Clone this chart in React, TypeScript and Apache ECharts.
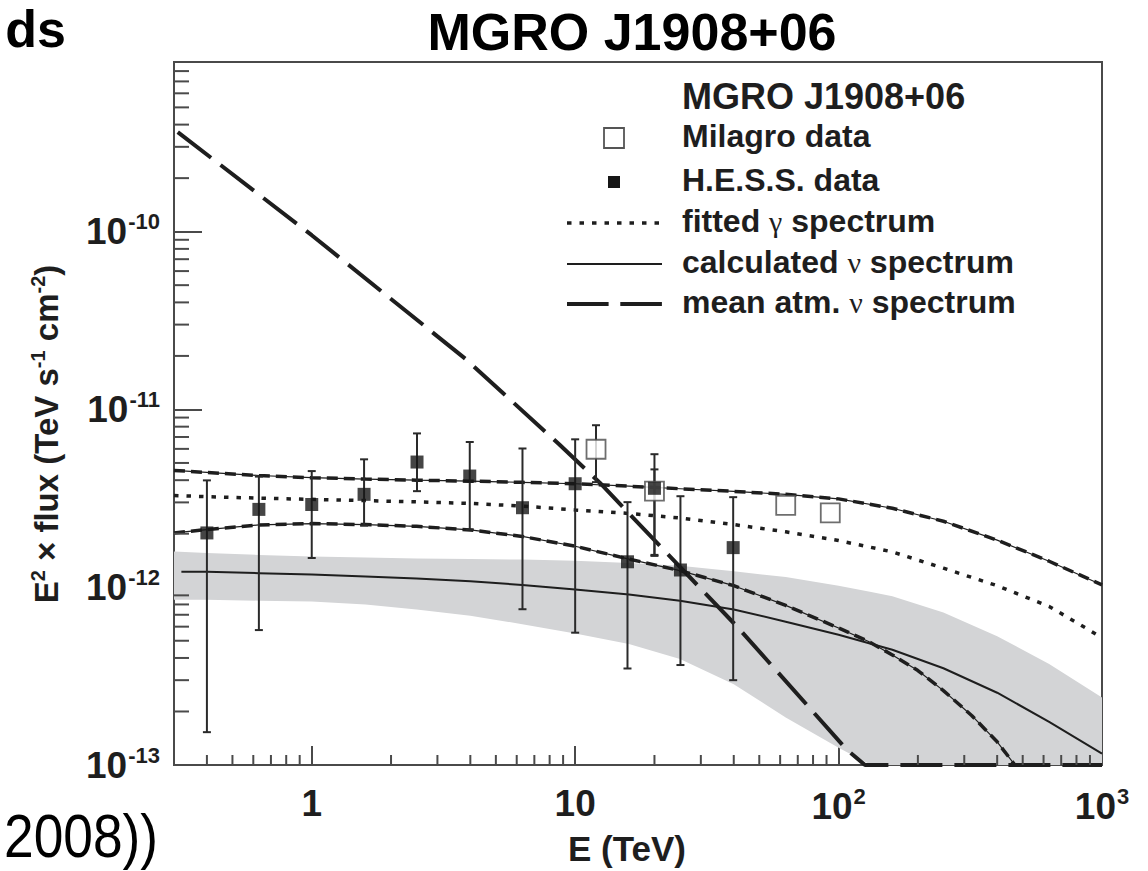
import React, { useEffect, useRef } from 'react';
import * as echarts from 'echarts';

const FONT = '"Liberation Sans", Arial, Helvetica, sans-serif';
const SERIF = '"Liberation Serif", "Times New Roman", serif';
const INK = '#1e1e1e';
const AXIS = '#4a4a4a';

const X_MIN = 0.3;
const X_MAX = 1000;
const Y_MIN = 1e-13;
const Y_MAX = 9e-10;

// H.E.S.S. data
const hessE = [0.4, 0.63, 1.0, 1.58, 2.51, 3.98, 6.31, 10.0, 15.8, 20.0, 25.1, 39.8];
const hessF = [2.02e-12, 2.74e-12, 2.92e-12, 3.33e-12, 5.06e-12, 4.22e-12, 2.8e-12, 3.82e-12, 1.39e-12, 3.6e-12, 1.25e-12, 1.67e-12];
const hessHi = [3.99e-12, 4.19e-12, 4.5e-12, 5.24e-12, 7.33e-12, 6.56e-12, 6.03e-12, 6.79e-12, 3.01e-12, 5.6e-12, 3.25e-12, 3.21e-12];
const hessLo = [1.53e-13, 5.74e-13, 1.46e-12, 2.22e-12, 3.47e-12, 2.11e-12, 7.52e-13, 5.55e-13, 3.49e-13, 1.52e-12, 3.65e-13, 3.0e-13];

// Milagro data
const milE = [12.0, 20.0, 63.0, 93.0];
const milF = [5.97e-12, 3.47e-12, 2.89e-12, 2.62e-12];
const milErrE = [12.0, 20.0];
const milErrHi = [8.15e-12, 4.6e-12];
const milErrLo = [3.9e-12, 1.5e-12];

// curves
const curveE = [0.3, 0.4, 0.63, 1, 1.6, 2.5, 4, 6.3, 10, 16, 25, 40, 63, 100, 160, 250, 400, 630, 1000];
const fitUpper = [4.54e-12, 4.42e-12, 4.25e-12, 4.13e-12, 4.06e-12, 4.0e-12, 3.95e-12, 3.89e-12, 3.82e-12, 3.7e-12, 3.58e-12, 3.46e-12, 3.33e-12, 3.14e-12, 2.78e-12, 2.35e-12, 1.84e-12, 1.4e-12, 1.03e-12];
const fitMid = [3.28e-12, 3.23e-12, 3.17e-12, 3.12e-12, 3.07e-12, 3.02e-12, 2.96e-12, 2.86e-12, 2.72e-12, 2.6e-12, 2.45e-12, 2.25e-12, 2.05e-12, 1.83e-12, 1.58e-12, 1.28e-12, 1.02e-12, 7.8e-13, 5.2e-13];
const lowerE = [0.3, 0.4, 0.63, 1, 1.6, 2.5, 4, 6.3, 10, 16, 25, 40, 63, 100, 130, 160, 200, 250, 320, 400, 467];
const fitLower = [2.02e-12, 2.11e-12, 2.24e-12, 2.28e-12, 2.25e-12, 2.2e-12, 2.1e-12, 1.93e-12, 1.7e-12, 1.44e-12, 1.24e-12, 1.02e-12, 7.9e-13, 5.9e-13, 4.95e-13, 4.16e-13, 3.4e-13, 2.62e-13, 1.9e-13, 1.35e-13, 1.0e-13];
const nuE = [0.32, 0.4, 0.63, 1, 1.6, 2.5, 4, 6.3, 10, 16, 25, 40, 63, 100, 160, 250, 400, 630, 1000];
const nuCalc = [1.22e-12, 1.22e-12, 1.2e-12, 1.18e-12, 1.15e-12, 1.12e-12, 1.08e-12, 1.03e-12, 9.7e-13, 9.1e-13, 8.4e-13, 7.5e-13, 6.4e-13, 5.4e-13, 4.45e-13, 3.5e-13, 2.55e-13, 1.75e-13, 1.16e-13];
const bandE = [0.3, 0.4, 0.63, 1, 1.6, 2.5, 4, 6.3, 10, 16, 25, 40, 63, 100, 133, 160, 250, 400, 630, 1000];
const bandHi = [1.59e-12, 1.56e-12, 1.52e-12, 1.49e-12, 1.47e-12, 1.45e-12, 1.44e-12, 1.43e-12, 1.41e-12, 1.37e-12, 1.32e-12, 1.23e-12, 1.14e-12, 1.02e-12, 9.4e-13, 8.9e-13, 7.2e-13, 5.3e-13, 3.7e-13, 2.4e-13];
const bandLo = [8.5e-13, 8.5e-13, 8.4e-13, 8.3e-13, 8.0e-13, 7.5e-13, 6.9e-13, 6.2e-13, 5.5e-13, 4.8e-13, 3.95e-13, 2.85e-13, 1.85e-13, 1.25e-13, 1.0e-13, 1.0e-13, 1.0e-13, 1.0e-13, 1.0e-13, 1.0e-13];
const atmE = [0.31, 1.0, 3.84, 8.69, 12.4, 25.0, 41.2, 108, 126, 140, 1000];
const atmF = [3.63e-10, 9.55e-11, 1.92e-11, 6.37e-12, 3.87e-12, 1.3e-12, 6.0e-13, 1.21e-13, 1.0e-13, 1.0e-13, 1.0e-13];

// axis minor ticks
const xMinor: number[] = [];
for (let d = -1; d <= 2; d++) for (let m = 2; m <= 9; m++) {
  const v = m * Math.pow(10, d);
  if (v > X_MIN && v < X_MAX) xMinor.push(v);
}
const yMinor: number[] = [];
for (let d = -13; d <= -10; d++) for (let m = 2; m <= 9; m++) {
  const v = m * Math.pow(10, d);
  if (v > Y_MIN && v < Y_MAX * 1.001) yMinor.push(v);
}

const pairs = (xs: number[], ys: number[]) => xs.map((x, i) => [x, ys[i]]);

function isPow10(v: number) {
  const l = Math.log10(v);
  return Math.abs(l - Math.round(l)) < 1e-6;
}

export default function App() {
  const ref = useRef<HTMLDivElement>(null);
  useEffect(() => {
    if (!ref.current) return;
    const chart = echarts.init(ref.current, null, { renderer: 'svg' });

    const errRender = (params: any, api: any) => {
      const x = api.value(0);
      const lo = api.value(1);
      const hi = api.value(2);
      const a = api.coord([x, hi]);
      const b = api.coord([x, lo]);
      const w = 4;
      const st = { stroke: '#2a2a2a', lineWidth: 2 };
      return {
        type: 'group',
        children: [
          { type: 'line', shape: { x1: a[0], y1: a[1], x2: b[0], y2: b[1] }, style: st },
          { type: 'line', shape: { x1: a[0] - w, y1: a[1], x2: a[0] + w, y2: a[1] }, style: st },
          { type: 'line', shape: { x1: b[0] - w, y1: b[1], x2: b[0] + w, y2: b[1] }, style: st },
        ],
      };
    };

    const supRich = {
      s: { fontSize: 22, fontWeight: 'bold', fontFamily: FONT, color: INK, padding: [0, 0, 20, 1] },
    };

    const curve = (name: string, xs: number[], ys: number[], lineStyle: any, extra: any = {}) => ({
      type: 'line', name, data: pairs(xs, ys), symbol: 'none', z: 3, lineStyle, ...extra,
    });

    const option: any = {
      animation: false,
      backgroundColor: '#ffffff',
      grid: { left: 174, right: 46, top: 62, bottom: 106, show: true, borderColor: AXIS, borderWidth: 2 },
      xAxis: {
        type: 'log', logBase: 10, min: X_MIN, max: X_MAX,
        axisLine: { lineStyle: { color: AXIS, width: 2 } },
        axisTick: { inside: true, length: 19, lineStyle: { color: AXIS, width: 2 } },
        splitLine: { show: false },
        axisLabel: {
          margin: 20, color: INK, fontSize: 37, fontWeight: 'bold', fontFamily: FONT,
          formatter: (v: number) => {
            if (!isPow10(v)) return '';
            const p = Math.round(Math.log10(v));
            if (p === 0) return '1';
            if (p === 1) return '10';
            return '10{s|' + p + '}';
          },
          rich: supRich,
        },
      },
      yAxis: {
        type: 'log', logBase: 10, min: Y_MIN, max: Y_MAX,
        axisLine: { lineStyle: { color: AXIS, width: 2 } },
        axisTick: { inside: true, length: 28, lineStyle: { color: AXIS, width: 2 } },
        splitLine: { show: false },
        axisLabel: {
          margin: 14, color: INK, fontSize: 37, fontWeight: 'bold', fontFamily: FONT,
          formatter: (v: number) => {
            if (!isPow10(v)) return '';
            const p = Math.round(Math.log10(v));
            return '10{s|' + p + '}';
          },
          rich: supRich,
        },
      },
      series: [
        {
          type: 'custom', name: 'band', clip: true, z: 1,
          data: [[bandE[0], bandHi[0]]],
          renderItem: (params: any, api: any) => {
            const pts: number[][] = [];
            bandE.forEach((e, i) => pts.push(api.coord([e, bandHi[i]])));
            for (let i = bandE.length - 1; i >= 0; i--) pts.push(api.coord([bandE[i], bandLo[i]]));
            return { type: 'polygon', shape: { points: pts }, style: { fill: '#d3d4d6', stroke: 'none' } };
          },
        },
        curve('calculated ν spectrum', nuE, nuCalc, { color: INK, width: 2 }),
        curve('upper thin', curveE, fitUpper, { color: INK, width: 1.2 }),
        curve('upper dashed', curveE, fitUpper, { color: INK, width: 3.5, type: [11, 6] }),
        curve('lower thin', lowerE, fitLower, { color: INK, width: 1.2 }),
        curve('lower dashed', lowerE, fitLower, { color: INK, width: 3.5, type: [11, 6] }),
        curve('fitted γ spectrum', curveE, fitMid, { color: INK, width: 3.5, type: [4.5, 8] }),
        {
          type: 'line', name: 'mean atm. ν spectrum', data: pairs(atmE, atmF), symbol: 'none', z: 3, clip: false,
          lineStyle: { color: INK, width: 4, type: [42, 12] },
        },
        {
          type: 'custom', name: 'hess err', z: 4,
          data: hessE.map((e, i) => [e, hessLo[i], hessHi[i]]),
          encode: { x: 0, y: [1, 2] },
          renderItem: errRender,
        },
        {
          type: 'custom', name: 'milagro err', z: 4,
          data: milErrE.map((e, i) => [e, milErrLo[i], milErrHi[i]]),
          encode: { x: 0, y: [1, 2] },
          renderItem: errRender,
        },
        {
          type: 'scatter', name: 'Milagro data', data: pairs(milE, milF), symbol: 'rect', symbolSize: 19, z: 5,
          itemStyle: { color: '#ffffff', borderColor: '#4a4a4a', borderWidth: 1.8 },
        },
        {
          type: 'scatter', name: 'H.E.S.S. data', data: pairs(hessE, hessF), symbol: 'rect', symbolSize: 13, z: 6,
          itemStyle: { color: '#161616' },
        },
        {
          type: 'custom', name: 'x minor ticks', z: 7, clip: false,
          data: xMinor.map((v) => [v, Y_MIN]),
          renderItem: (params: any, api: any) => {
            const p = api.coord([api.value(0), Y_MIN]);
            return { type: 'line', shape: { x1: p[0], y1: p[1], x2: p[0], y2: p[1] - 10 }, style: { stroke: AXIS, lineWidth: 2 } };
          },
        },
        {
          type: 'custom', name: 'y minor ticks', z: 7, clip: false,
          data: yMinor.map((v) => [X_MIN, v]),
          renderItem: (params: any, api: any) => {
            const p = api.coord([X_MIN, api.value(1)]);
            return { type: 'line', shape: { x1: p[0], y1: p[1], x2: p[0] + 15, y2: p[1] }, style: { stroke: AXIS, lineWidth: 2 } };
          },
        },
      ],
      graphic: [
        // page texts
        { type: 'text', x: 66, y: 29, style: { text: 'ds', font: 'bold 52px ' + FONT, fill: '#000', align: 'right', verticalAlign: 'middle' } },
        { type: 'text', x: 632, y: 32, style: { text: 'MGRO J1908+06', font: 'bold 52px ' + FONT, fill: '#000', align: 'center', verticalAlign: 'middle' } },
        { type: 'text', x: 4, y: 836, scaleX: 0.86, style: { text: '2008))', font: '62px ' + FONT, fill: '#000', align: 'left', verticalAlign: 'middle' } },
        // axis titles
        { type: 'text', x: 627, y: 848, style: { text: 'E (TeV)', font: 'bold 35px ' + FONT, fill: INK, align: 'center', verticalAlign: 'middle' } },
        {
          type: 'text', x: 46, y: 434, rotation: Math.PI / 2,
          style: {
            text: 'E{s|2} × flux (TeV s{s|-1} cm{s|-2})', font: 'bold 33px ' + FONT, fill: INK, align: 'center', verticalAlign: 'middle',
            rich: { s: { fontSize: 20, fontWeight: 'bold', fontFamily: FONT, fill: INK, padding: [0, 0, 16, 0] } },
          },
        },
        // legend
        { type: 'text', x: 682, y: 96, z: 10, style: { text: 'MGRO J1908+06', font: 'bold 36px ' + FONT, fill: INK, align: 'left', verticalAlign: 'middle' } },
        { type: 'rect', z: 10, shape: { x: 604, y: 128, width: 20, height: 20 }, style: { fill: '#fff', stroke: '#555', lineWidth: 1.8 } },
        { type: 'text', x: 682, y: 136, z: 10, style: { text: 'Milagro data', font: 'bold 32px ' + FONT, fill: INK, align: 'left', verticalAlign: 'middle' } },
        { type: 'rect', z: 10, shape: { x: 608, y: 176, width: 12, height: 12 }, style: { fill: '#161616' } },
        { type: 'text', x: 682, y: 180, z: 10, style: { text: 'H.E.S.S. data', font: 'bold 32px ' + FONT, fill: INK, align: 'left', verticalAlign: 'middle' } },
        { type: 'line', z: 10, shape: { x1: 567, y1: 223, x2: 662, y2: 223 }, style: { stroke: INK, lineWidth: 3.5, lineDash: [4.5, 8] } },
        {
          type: 'text', x: 682, y: 221, z: 10,
          style: { text: 'fitted {g|γ} spectrum', font: 'bold 32px ' + FONT, fill: INK, align: 'left', verticalAlign: 'middle', rich: { g: { fontFamily: SERIF, fontWeight: 'normal', fontSize: 30, fill: INK } } },
        },
        { type: 'line', z: 10, shape: { x1: 567, y1: 264, x2: 662, y2: 264 }, style: { stroke: INK, lineWidth: 2 } },
        {
          type: 'text', x: 682, y: 262, z: 10,
          style: { text: 'calculated {g|ν} spectrum', font: 'bold 32px ' + FONT, fill: INK, align: 'left', verticalAlign: 'middle', rich: { g: { fontFamily: SERIF, fontWeight: 'normal', fontSize: 30, fill: INK } } },
        },
        { type: 'line', z: 10, shape: { x1: 567, y1: 304, x2: 662, y2: 304 }, style: { stroke: INK, lineWidth: 4, lineDash: [41.6, 11.7] } },
        {
          type: 'text', x: 682, y: 302, z: 10,
          style: { text: 'mean atm. {g|ν} spectrum', font: 'bold 32px ' + FONT, fill: INK, align: 'left', verticalAlign: 'middle', rich: { g: { fontFamily: SERIF, fontWeight: 'normal', fontSize: 30, fill: INK } } },
        },
      ],
    };
    chart.setOption(option);
    return () => chart.dispose();
  }, []);
  return <div ref={ref} style={{ position: 'fixed', left: 0, top: 0, width: 1148, height: 871, background: '#fff' }} />;
}
